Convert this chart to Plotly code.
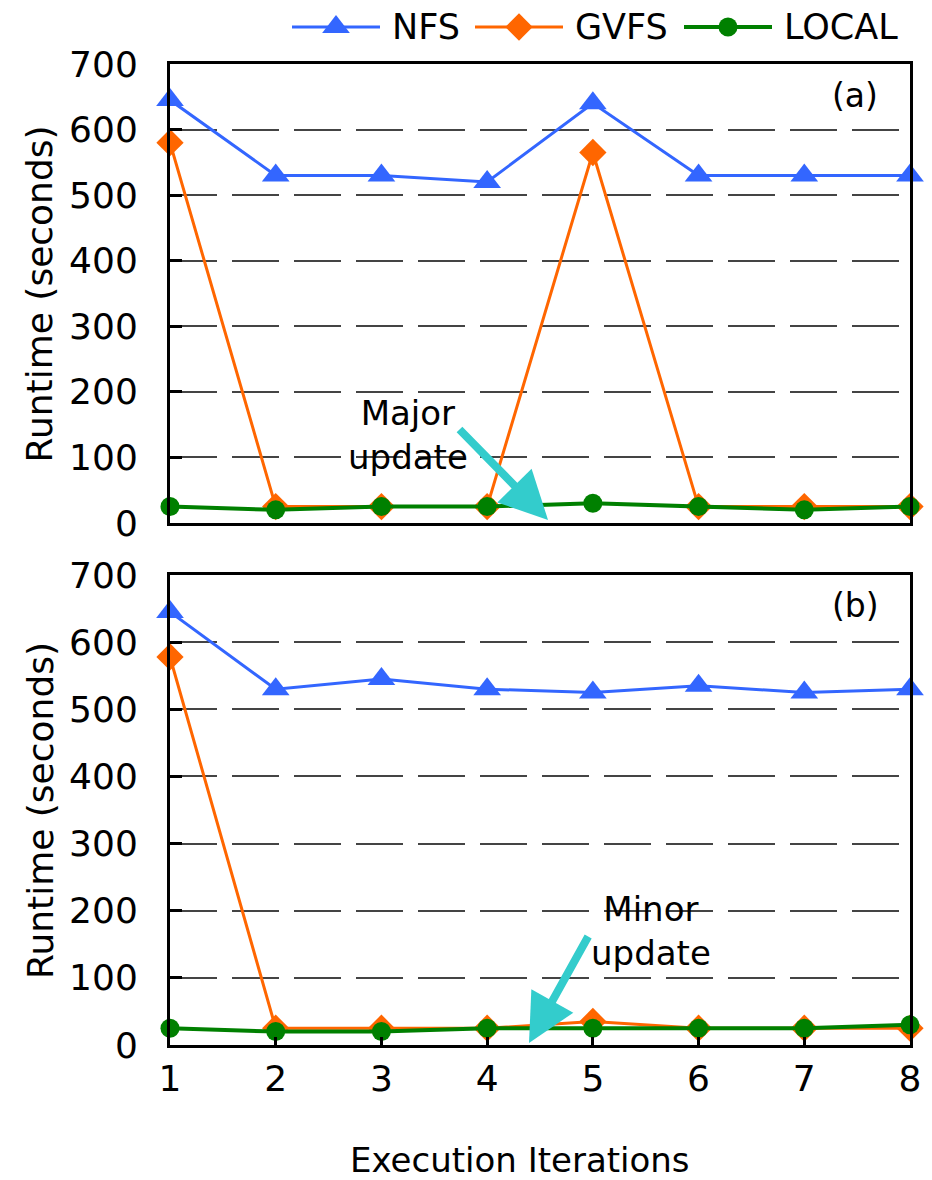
import plotly.graph_objects as go

iterations = [1, 2, 3, 4, 5, 6, 7, 8]
tick_labels = ["1", "2", "3", "4", "5", "6", "7", "8"]

# panel (a): major update
nfs_a = [645, 530, 530, 520, 640, 530, 530, 530]
gvfs_a = [580, 25, 25, 25, 565, 25, 25, 25]
local_a = [25, 20, 25, 25, 30, 25, 20, 25]

# panel (b): minor update
nfs_b = [645, 530, 545, 530, 525, 535, 525, 530]
gvfs_b = [578, 25, 25, 25, 35, 25, 25, 25]
local_b = [25, 20, 20, 25, 25, 25, 25, 30]

series_names = ["NFS", "GVFS", "LOCAL"]

FONT = "DejaVu Sans"
COLORS = {"NFS": "#3366FF", "GVFS": "#FF6600", "LOCAL": "#008000"}
SYMBOLS = {"NFS": "triangle-up", "GVFS": "diamond", "LOCAL": "circle"}
SIZES = {"NFS": 24, "GVFS": 21, "LOCAL": 19}
WIDTHS = {"NFS": 3, "GVFS": 3, "LOCAL": 4}

fig = go.Figure()

def add_series(x, y, name, xa, ya):
    fig.add_trace(go.Scatter(
        x=x, y=y, name=name, mode="lines+markers",
        line=dict(color=COLORS[name], width=WIDTHS[name]),
        marker=dict(symbol=SYMBOLS[name], size=SIZES[name], color=COLORS[name]),
        xaxis=xa, yaxis=ya, showlegend=False, cliponaxis=False,
    ))

for name, vals in zip(series_names, [nfs_a, gvfs_a, local_a]):
    add_series(iterations, vals, name, "x", "y")
for name, vals in zip(series_names, [nfs_b, gvfs_b, local_b]):
    add_series(iterations, vals, name, "x2", "y2")

# custom legend drawn on its own small axis in the top strip (units: px from plot left)
legend_line_start = [122, 305, 514]
legend_line_len = 88
legend_text_gap = 10
for name, x0 in zip(series_names, legend_line_start):
    fig.add_trace(go.Scatter(
        x=[x0, x0 + legend_line_len], y=[0.5, 0.5], mode="lines",
        line=dict(color=COLORS[name], width=WIDTHS[name]),
        xaxis="x3", yaxis="y3", showlegend=False, hoverinfo="skip", cliponaxis=False))
    fig.add_trace(go.Scatter(
        x=[x0 + legend_line_len / 2], y=[0.5], mode="markers",
        marker=dict(symbol=SYMBOLS[name], size=SIZES[name], color=COLORS[name]),
        xaxis="x3", yaxis="y3", showlegend=False, hoverinfo="skip", cliponaxis=False))

yax = dict(range=[0, 700], dtick=100, showline=True, linecolor="black", linewidth=3,
           mirror=True, ticks="inside", ticklen=12, tickwidth=3, tickcolor="black",
           showgrid=True, gridcolor="#444444", gridwidth=1.6, griddash="47px,15px",
           zeroline=False, tickfont=dict(family=FONT, size=36, color="black"),
           ticklabelstandoff=22)
xax = dict(range=[1, 8], showline=True, linecolor="black", linewidth=3, mirror=True,
           showgrid=False, zeroline=False, tickvals=iterations, ticktext=tick_labels,
           tickfont=dict(family=FONT, size=36, color="black"))

fig.update_layout(
    width=924, height=1172,
    paper_bgcolor="white", plot_bgcolor="white",
    margin=dict(l=162, r=22, t=0, b=135, autoexpand=False),
    font=dict(family=FONT, color="black"),
    xaxis=dict(xax, domain=[0, 1], anchor="y", showticklabels=False, ticks=""),
    yaxis=dict(yax, domain=[0.5034, 0.946], anchor="x"),
    xaxis2=dict(xax, domain=[0, 1], anchor="y2", ticks="inside", ticklen=8,
                tickwidth=3, tickcolor="black", ticklabelstandoff=0),
    yaxis2=dict(yax, domain=[0, 0.4532], anchor="x2"),
    xaxis3=dict(domain=[0, 1], range=[0, 740], visible=False, anchor="y3", fixedrange=True),
    yaxis3=dict(domain=[0.955, 1.0], range=[0, 0.843], visible=False, anchor="x3", fixedrange=True),
    showlegend=False,
)

ann = []
for name, x0 in zip(series_names, legend_line_start):
    ann.append(dict(text=name, xref="x3", yref="y3", x=x0 + legend_line_len + legend_text_gap,
                    y=0.5, xanchor="left", yanchor="middle", showarrow=False,
                    font=dict(family=FONT, size=35, color="black")))
for yref in ["y domain", "y2 domain"]:
    ann.append(dict(text="Runtime (seconds)", textangle=-90, xref="paper", yref=yref,
                    x=-0.1757, y=0.5, xanchor="center", yanchor="middle", showarrow=False,
                    font=dict(family=FONT, size=36, color="black")))
ann.append(dict(text="Execution Iterations", xref="paper", yref="paper", x=0.473, y=-0.1109,
                xanchor="center", yanchor="middle",
                showarrow=False, font=dict(family=FONT, size=34, color="black")))
ann.append(dict(text="(a)", xref="x", yref="y", x=7.48, y=652, showarrow=False,
                xanchor="center", yanchor="middle",
                font=dict(family=FONT, size=33, color="black")))
ann.append(dict(text="(b)", xref="x2", yref="y2", x=7.48, y=655, showarrow=False,
                xanchor="center", yanchor="middle",
                font=dict(family=FONT, size=33, color="black")))
ann.append(dict(text="Major<br>update", xref="x", yref="y", x=3.25, y=134, showarrow=False,
                xanchor="center", yanchor="middle",
                font=dict(family=FONT, size=34, color="black")))
ann.append(dict(text="Minor<br>update", xref="x2", yref="y2", x=5.55, y=170, showarrow=False,
                xanchor="center", yanchor="middle",
                font=dict(family=FONT, size=34, color="black")))
ann.append(dict(text="", xref="x", yref="y", x=4.576, y=4.6, ax=-90, ay=-92,
                showarrow=True, arrowhead=2, arrowsize=1.2, arrowwidth=8, arrowcolor="#33CCCC"))
ann.append(dict(text="", xref="x2", yref="y2", x=4.396, y=3, ax=60, ay=-108,
                showarrow=True, arrowhead=2, arrowsize=1.2, arrowwidth=8, arrowcolor="#33CCCC"))
fig.update_layout(annotations=ann)

fig.write_html("out.html")
